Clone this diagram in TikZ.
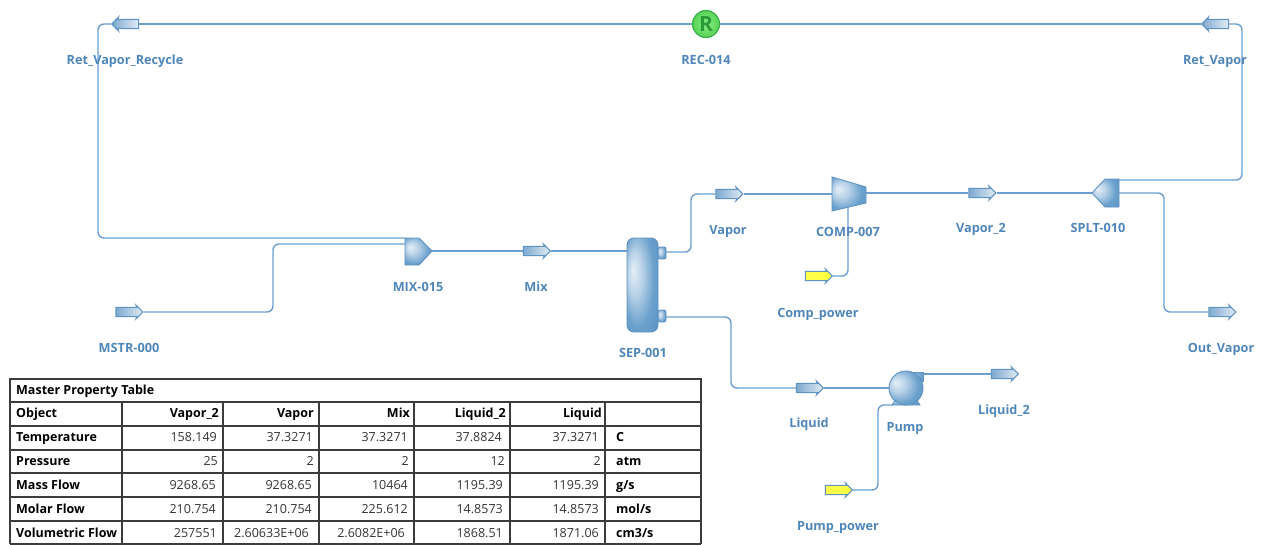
\documentclass[tikz,border=0pt]{standalone}
\usepackage{fontspec}
\setmainfont{Open Sans}
\usetikzlibrary{shapes.arrows,calc}
\definecolor{conn}{HTML}{6C9FCF}
\definecolor{lab}{HTML}{4F86BA}
\definecolor{eqedge}{HTML}{5F93C2}
\definecolor{eqdark}{HTML}{5C93C3}
\definecolor{eqlight}{HTML}{E2ECF4}
\definecolor{ruleC}{HTML}{3C3C3C}
\definecolor{recfill}{HTML}{8CEB84}
\definecolor{recout}{HTML}{55D455}
\definecolor{recedge}{HTML}{3DAE4A}
\definecolor{rectext}{HTML}{2B9A38}
\pgfdeclareradialshading{eqshade}{\pgfpoint{-16bp}{8bp}}{rgb(0bp)=(0.90,0.94,0.97); rgb(12bp)=(0.72,0.82,0.91); rgb(26bp)=(0.42,0.63,0.80); rgb(50bp)=(0.30,0.54,0.75)}
\tikzset{
  pipe/.style={draw=conn,line width=1.4pt,rounded corners=6pt},
  equip/.style={draw=eqedge,line width=0.9pt,shading=eqshade},
  lbl/.style={text=lab,font=\fontsize{12.7}{14}\selectfont\bfseries,inner sep=0pt,text height=9.1pt,text depth=2.7pt},
  strm/.style={single arrow,single arrow head extend=2.2pt,single arrow head indent=0.8pt,minimum height=27pt,inner xsep=0pt,inner ysep=4.2pt,text height=0pt,text depth=0pt,text width=0pt,draw=eqedge,line width=1pt},
  matl/.style={strm,left color=eqdark!80,right color=eqlight},
  matll/.style={strm,left color=eqdark!80,right color=eqlight,shape border rotate=180},
  enrg/.style={strm,left color=yellow!70,right color=yellow!75,draw=eqedge},
  cell/.style={inner sep=0pt,font=\fontsize{12.5}{14}\selectfont,text=black!80,text height=9pt,text depth=2.6pt},
  num/.style={cell,anchor=east},
  head/.style={cell,font=\fontsize{12.5}{14}\selectfont\bfseries,text=black},
  rowh/.style={head,anchor=west},
  colh/.style={head,anchor=east},
  grid/.style={draw=ruleC,line width=1.1pt}
}
\begin{document}
\begin{tikzpicture}[x=1pt,y=-1pt]
\useasboundingbox (0,0) rectangle (1263,544);
% streams
\node[matll] (retrec) at (127.5,24) {};
\node[matll] (ret) at (1217.5,24) {};
\node[matl] (mstr) at (127,312) {};
\node[matl] (mix) at (534.5,251) {};
\node[matl] (vap) at (727,194) {};
\node[matl] (vap2) at (980,193) {};
\node[matl] (out) at (1220,312) {};
\node[matl] (liq) at (807.5,388) {};
\node[matl] (liq2) at (1002.5,374) {};
\node[enrg] (cpow) at (816.5,276) {};
\node[enrg] (ppow) at (836.5,490) {};
% anchor coordinates of the unit operations
\coordinate (mixA) at (405,238);
\coordinate (mixB) at (405,244);
\coordinate (mixO) at (432,251);
\coordinate (compI) at (832,194);
\coordinate (compO) at (866,193);
\coordinate (compP) at (848,206);
\coordinate (spI) at (1092,193);
\coordinate (spA) at (1119,180);
\coordinate (spB) at (1119,193);
\coordinate (pumpO) at (923,374);
\coordinate (pumpP) at (892,405);
% connectors
\draw[pipe] (retrec.tip) -- (98,24) -- (98,238) -- (mixA);
\draw[pipe] (mstr.tip) -- (273,312) -- (273,244) -- (mixB);
\draw[pipe] (mixO) -- (mix.tail);
\draw[pipe] (mix.tip) -- (627,251);
\draw[pipe] (666,252) -- (691,252) -- (691,194) -- (vap.tail);
\draw[pipe] (vap.tip) -- (compI);
\draw[pipe] (compO) -- (vap2.tail);
\draw[pipe] (vap2.tip) -- (spI);
\draw[pipe] (spA) -- (1242,180) -- (1242,24) -- (ret.tail);
\draw[pipe] (spB) -- (1164,193) -- (1164,312) -- (out.tail);
\draw[pipe] (666,317) -- (731,317) -- (731,388) -- (liq.tail);
\draw[pipe] (liq.tip) -- (890,388);
\draw[pipe] (pumpO) -- (liq2.tail);
\draw[pipe] (cpow.tip) -- (848,276) -- (compP);
\draw[pipe] (ppow.tip) -- (878,490) -- (878,405) -- (pumpP);
\draw[pipe] (ret.tip) -- (720,24);
\draw[pipe] (692,24) -- (retrec.tail);
% equipment
\path[equip] (405,238) -- (419,238) -- (432,251) -- (419,265) -- (405,265) -- cycle;
\path[equip] (832,177) -- (866,187) -- (866,203) -- (832,211) -- cycle;
\path[equip] (1119,179) -- (1105,179) -- (1092,193) -- (1105,207) -- (1119,207) -- cycle;
\path[equip,rounded corners=2pt] (658,247) rectangle (666,259);
\path[equip,rounded corners=2pt] (658,310) rectangle (666,322);
\node[equip,rounded corners=7pt,minimum width=31pt,minimum height=94pt,inner sep=0pt] (sep) at (642.5,285) {};
\path[equip] (892,405) -- (897,398) -- (915,398) -- (920,405) -- cycle;
\path[equip] (906,372) rectangle (923,381);
\node[equip,circle,minimum size=34pt,inner sep=0pt] (pump) at (906,388) {};
\node[circle,draw=recedge,line width=1.2pt,minimum size=27pt,inner sep=0pt,inner color=recfill,outer color=recout,text=rectext,font=\fontsize{21}{21}\selectfont\bfseries] (rec) at (706,24) {R};
% labels
\node[lbl] (l1) at (125,61.3) {Ret\_Vapor\_Recycle};
\node[lbl] (l2) at (706,61.3) {REC-014};
\node[lbl] (l3) at (1215,61.3) {Ret\_Vapor};
\node[lbl] (l4) at (418,288) {MIX-015};
\node[lbl] (l5) at (536,288) {Mix};
\node[lbl] (l6) at (643,354.3) {SEP-001};
\node[lbl] (l7) at (728,231.3) {Vapor};
\node[lbl] (l8) at (848,233.6) {COMP-007};
\node[lbl] (l9) at (981,229.6) {Vapor\_2};
\node[lbl] (l10) at (1098,229.6) {SPLT-010};
\node[lbl] (l11) at (818,314) {Comp\_power};
\node[lbl] (l12) at (129,349.3) {MSTR-000};
\node[lbl] (l13) at (1221,349.3) {Out\_Vapor};
\node[lbl] (l14) at (809,424.3) {Liquid};
\node[lbl] (l15) at (905,428.6) {Pump};
\node[lbl] (l16) at (1004,411.3) {Liquid\_2};
\node[lbl] (l17) at (838,527) {Pump\_power};
% table
\draw[grid] (10,544) -- (10,379) -- (701,379) -- (701,544);
\foreach \yy in {402,426,450,473,497,521} \draw[grid] (10,\yy) -- (701,\yy);
\draw[grid] (10,544) -- (701,544);
\foreach \xx in {122,223,319,414,510,605} \draw[grid] (\xx,402) -- (\xx,544);
\node[rowh] (title) at (16,391.2) {Master Property Table};
\foreach \nm/\yy/\tx in {r0/414.5/Object,r1/438.5/Temperature,r2/462.2/Pressure,r3/486.2/Mass Flow,r4/510.2/Molar Flow,r5/534/Volumetric Flow}
  \node[rowh] (\nm) at (16,\yy) {\tx};
\foreach \nm/\xx/\tx in {c1/219/Vapor\_2,c2/314/Vapor,c3/410/Mix,c4/506/Liquid\_2,c5/602/Liquid}
  \node[colh] (\nm) at (\xx,414.5) {\tx};
\foreach \nm/\yy/\tx in {u1/438.5/C,u2/462.2/atm,u3/486.2/{g/s},u4/510.2/{mol/s},u5/534/{cm3/s}}
  \node[rowh] (\nm) at (616,\yy) {\tx};
\foreach \nm/\xx/\yy/\tx in {
 a1/217/438.5/158.149,a2/313/438.5/37.3271,a3/408/438.5/37.3271,a4/502/438.5/37.8824,a5/599/438.5/37.3271,
 b1/218/462.2/25,b2/314/462.2/2,b3/409/462.2/2,b4/505/462.2/12,b5/601/462.2/2,
 d1/216/486.2/9268.65,d2/312/486.2/9268.65,d3/408/486.2/10464,d4/503/486.2/1195.39,d5/599/486.2/1195.39,
 e1/216/510.2/210.754,e2/312/510.2/210.754,e3/408/510.2/225.612,e4/503/510.2/14.8573,e5/599/510.2/14.8573,
 f1/217/534/257551,f2/309/534/2.60633E+06,f3/405/534/2.6082E+06,f4/503/534/1868.51,f5/599/534/1871.06}
  \node[num] (\nm) at (\xx,\yy) {\tx};
\end{tikzpicture}
\end{document}
